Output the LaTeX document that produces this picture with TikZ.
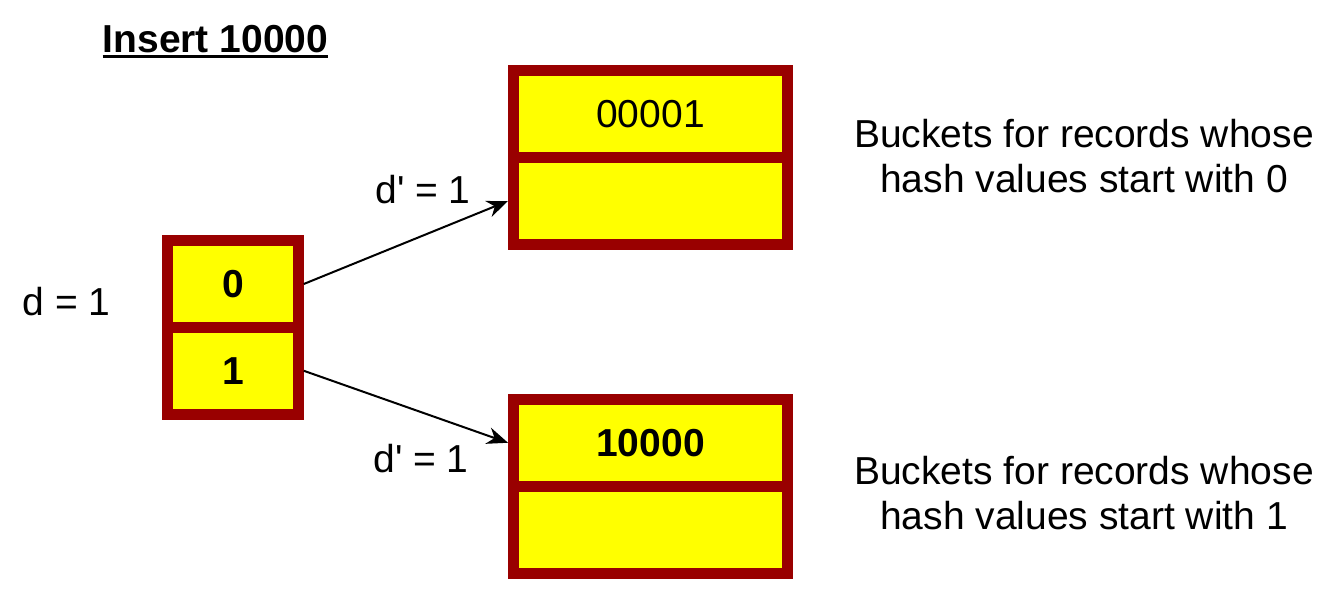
\documentclass[tikz,border=0pt]{standalone}
\usepackage{fontspec}
\setmainfont{Liberation Sans}
\usetikzlibrary{arrows.meta}
\definecolor{cellborder}{HTML}{990000}
\definecolor{cellfill}{HTML}{FFFF00}
\begin{document}
\begin{tikzpicture}[x=1pt,y=-1pt,
  cell/.style={draw=cellborder,fill=cellfill,line width=11pt,rectangle,inner sep=0pt,
    font=\fontsize{39}{45}\selectfont},
  dircell/.style={cell,minimum width=130.5pt,minimum height=87pt,font=\fontsize{39}{45}\selectfont\bfseries},
  bucketcell/.style={cell,minimum width=274pt,minimum height=87pt},
  lbl/.style={inner sep=0pt,anchor=base,font=\fontsize{39}{45}\selectfont},
  ptr/.style={draw=black,line width=2pt,-{Stealth[length=21pt,width=17pt]}}]
\useasboundingbox (0,0) rectangle (1330,595);
% directory
\node[dircell] (d0) at (233,284) {0};
\node[dircell] (d1) at (233,370.75) {1};
% buckets
\node[bucketcell] (b0a) at (650.5,114) {00001};
\node[bucketcell] (b0b) at (650.5,201) {};
\node[bucketcell,font=\fontsize{39}{45}\selectfont\bfseries] (b1a) at (650.5,442.75) {10000};
\node[bucketcell] (b1b) at (650.5,530) {};
% labels
\node[lbl,font=\fontsize{39}{45}\selectfont\bfseries] (title) at (215.5,52) {Insert 10000};
\draw[line width=2.6pt] ([yshift=-4.7pt]title.base west) -- ([yshift=-4.7pt]title.base east);
\node[lbl] (dlbl) at (66.5,315) {d = 1};
\node[lbl] (dp0) at (423,203) {d\textquotesingle{} = 1};
\node[lbl] (dp1) at (421,472) {d\textquotesingle{} = 1};
\node[lbl] (t0a) at (1084,147) {Buckets for records whose};
\node[lbl] (t0b) at (1084,192) {hash values start with 0};
\node[lbl] (t1a) at (1084,484) {Buckets for records whose};
\node[lbl] (t1b) at (1084,529) {hash values start with 1};
% pointers
\draw[ptr] (d0.east) -- (b0b.west);
\draw[ptr] (d1.east) -- (b1a.west);
\end{tikzpicture}
\end{document}
